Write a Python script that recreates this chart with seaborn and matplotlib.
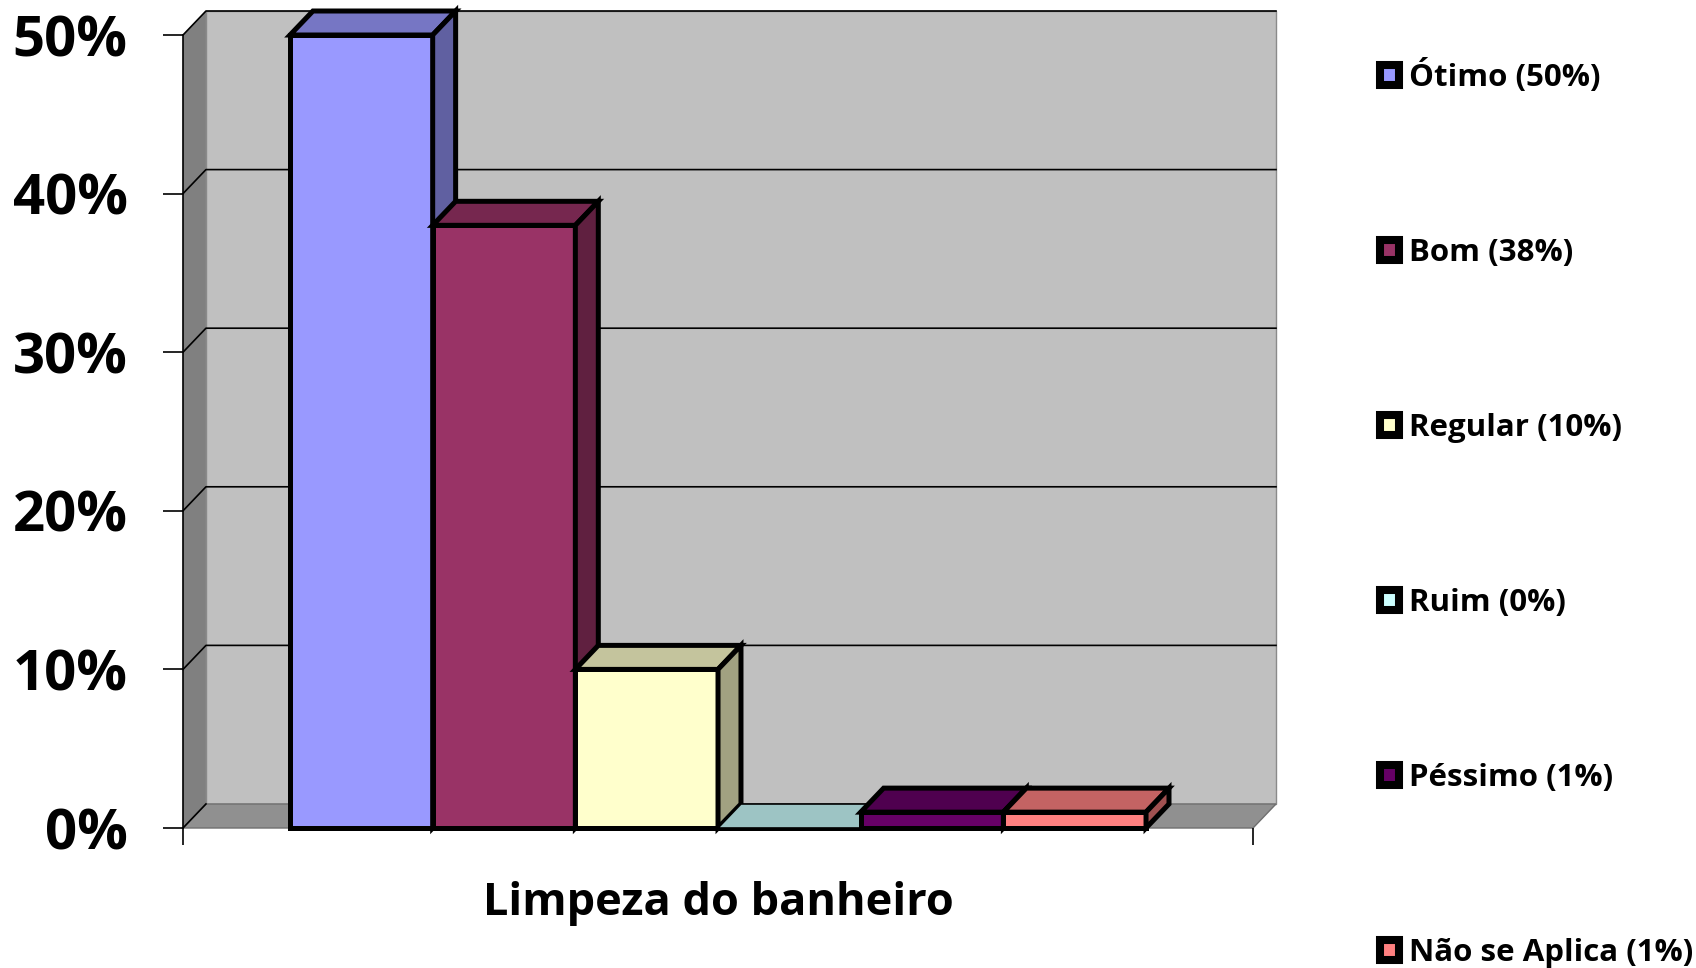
import matplotlib.pyplot as plt
import matplotlib.colors as mcolors
import seaborn as sns
import pandas as pd
from matplotlib.patches import Polygon, Patch


categoria = 'Limpeza do banheiro'
respostas = ['Ótimo', 'Bom', 'Regular', 'Ruim', 'Péssimo', 'Não se Aplica']
percentuais = [50, 38, 10, 0, 1, 1]
cores = ['#9999FF', '#993366', '#FFFFCC', '#CCFFFF', '#660066', '#FF8080']
ticks_y = [0, 10, 20, 30, 40, 50]

rotulos = [f'{r} ({p}%)' for r, p in zip(respostas, percentuais)]
df = pd.DataFrame({'categoria': categoria, 'resposta': rotulos, 'pct': percentuais})

plt.rcParams['font.family'] = ['Open Sans', 'DejaVu Sans']
plt.rcParams['font.weight'] = 'bold'


def escurecer(cor, f):
    r, g, b = mcolors.to_rgb(cor)
    return (r * f, g * f, b * f)


fig = plt.figure(figsize=(16.96, 9.68), dpi=100)
ax = fig.add_axes([183 / 1696, 140 / 968, 1093 / 1696, 817 / 968])
ax.set_facecolor('none')

# profundidade do efeito 3D
dx = 23 / 1072
dy = 24 / 15.85
x_esq, x_dir = -0.5, 0.5
y_max = ticks_y[-1]

# paredes e piso
ax.add_patch(Polygon([(x_esq + dx, dy), (x_dir + dx, dy), (x_dir + dx, y_max + dy), (x_esq + dx, y_max + dy)],
                     facecolor='#C0C0C0', edgecolor='#8a8a8a', lw=1, zorder=0.5, clip_on=False))
ax.add_patch(Polygon([(x_esq, 0), (x_esq + dx, dy), (x_esq + dx, y_max + dy), (x_esq, y_max)],
                     facecolor='#808080', edgecolor='none', zorder=0.6, clip_on=False))
ax.add_patch(Polygon([(x_esq, 0), (x_dir, 0), (x_dir + dx, dy), (x_esq + dx, dy)],
                     facecolor='#909090', edgecolor='#6f6f6f', lw=1, zorder=0.7, clip_on=False))

# linhas de grade (parede do fundo + parede lateral)
for v in ticks_y[1:]:
    ax.plot([x_esq, x_esq + dx, x_dir + dx], [v, v + dy, v + dy], color='black', lw=1.2,
            zorder=1, clip_on=False)
ax.plot([x_esq, x_esq + dx], [0, dy], color='black', lw=1.2, zorder=1, clip_on=False)

sns.barplot(data=df, x='categoria', y='pct', hue='resposta', palette=cores, saturation=1,
            edgecolor='black', linewidth=3.6, legend=False, ax=ax)

# faces de topo e laterais das barras
for i, (cont, cor) in enumerate(zip(ax.containers, cores)):
    bar = cont[0]
    x0, w, h = bar.get_x(), bar.get_width(), bar.get_height()
    x1 = x0 + w
    z = 3 + i
    bar.set_zorder(z)
    bar.set_clip_on(False)
    lw = 3.6 if h > 0 else 1.2
    ax.add_patch(Polygon([(x0, h), (x1, h), (x1 + dx, h + dy), (x0 + dx, h + dy)],
                         facecolor=escurecer(cor, 0.77), edgecolor='black', lw=lw,
                         zorder=z, clip_on=False))
    if h > 0:
        ax.add_patch(Polygon([(x1, 0), (x1 + dx, dy), (x1 + dx, h + dy), (x1, h)],
                             facecolor=escurecer(cor, 0.63), edgecolor='black', lw=lw,
                             zorder=z, clip_on=False))

ax.set_xlim(x_esq, x_dir + dx)
ax.set_ylim(0, y_max + dy)

ax.set_yticks(ticks_y, labels=[f'{v}%' for v in ticks_y])
ax.tick_params(axis='y', length=14.4, width=1.2, pad=25.5, labelsize=40.5)
ax.set_xticks([0], labels=[categoria])
ax.set_xticks([x_esq, x_dir], minor=True)
ax.tick_params(axis='x', which='major', length=0, pad=38, labelsize=32.5)
ax.tick_params(axis='x', which='minor', length=12, width=1.2)
ax.set_xlabel('')
ax.set_ylabel('')

for lado in ['top', 'right', 'bottom']:
    ax.spines[lado].set_visible(False)
ax.spines['left'].set_bounds(0, y_max)
ax.spines['left'].set_linewidth(1.2)
ax.spines['left'].set_zorder(2)

handles = [Patch(facecolor=c, edgecolor='black', linewidth=5.8, joinstyle='round') for c in cores]
fig.legend(handles, rotulos, loc='upper left', bbox_to_anchor=(1380 / 1696, 1 - 59 / 968),
           frameon=False, fontsize=22.5, labelspacing=4.64, handlelength=0.62, handleheight=0.62,
           handletextpad=0.3, borderpad=0, borderaxespad=0)

fig.savefig('out.png', dpi=100)
